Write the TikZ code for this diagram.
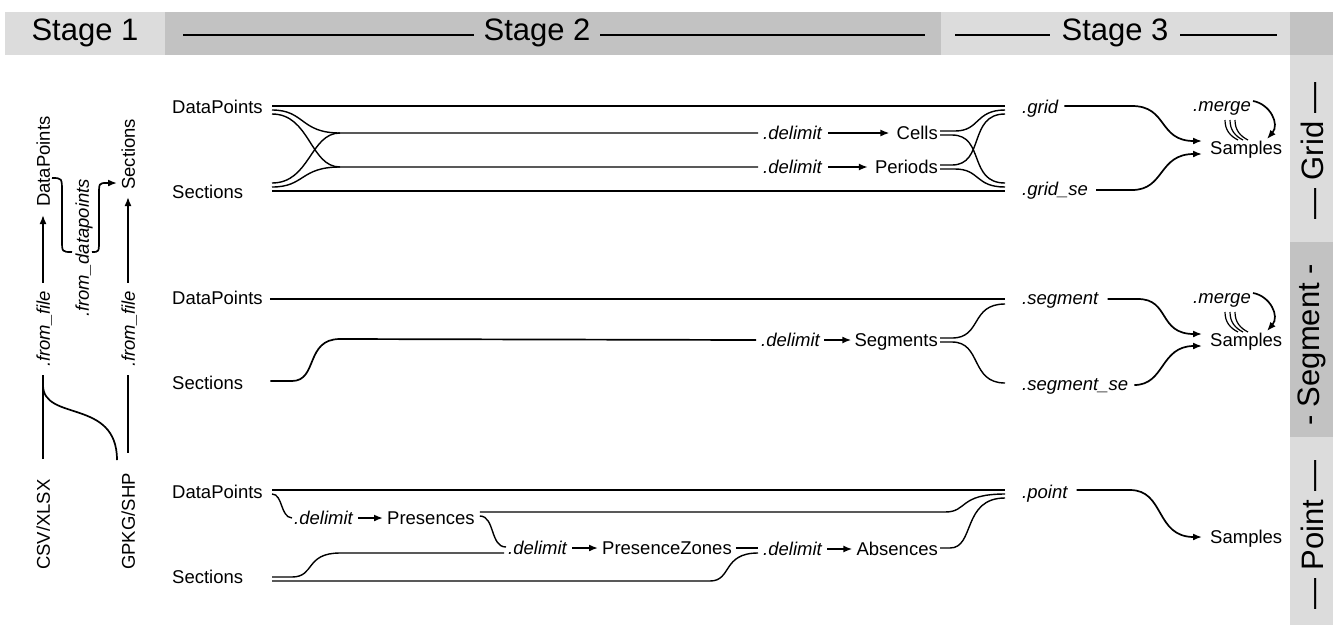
\documentclass[tikz,border=0pt]{standalone}
\usepackage{fontspec}
\setmainfont{Liberation Sans}
\usetikzlibrary{arrows.meta,calc}
\definecolor{lg}{HTML}{DCDCDC}
\definecolor{dg}{HTML}{C2C2C2}
\begin{document}
\begin{tikzpicture}[x=1pt,y=-1pt,
  lbl/.style={font=\fontsize{18.5}{22}\selectfont, inner sep=0pt, text height=13.5pt, text depth=0pt},
  op/.style={font=\fontsize{18.5}{22}\selectfont\itshape, inner sep=0pt, text height=13.5pt, text depth=0pt},
  ln/.style={line width=1.7pt},
  tl/.style={line width=1.4pt},
  arr/.style={line width=1.7pt,-{Latex[length=9pt,width=7pt]}},
  hdr/.style={font=\fontsize{31}{36}\selectfont, inner sep=0pt},
  merk/.style={line width=1.2pt},
]
\useasboundingbox (0,0) rectangle (1333,625);
% ---------- header bands ----------
\fill[lg] (5,12) rectangle (165,55);
\fill[dg] (165,12) rectangle (941,55);
\fill[lg] (941,12) rectangle (1290,55);
\fill[dg] (1290,12) rectangle (1333,55);
\fill[lg] (1290,55) rectangle (1333,242);
\fill[dg] (1290,242) rectangle (1333,437);
\fill[lg] (1290,437) rectangle (1333,625);
\node[hdr] (st1) at (85,33) {Stage 1};
\node[hdr] (st2) at (537,33) {Stage 2};
\node[hdr] (st3) at (1115,33) {Stage 3};
\draw[line width=1.8pt] (183,35) -- (474,35);
\draw[line width=1.8pt] (600,35) -- (925,35);
\draw[line width=1.8pt] (955,35) -- (1050,35);
\draw[line width=1.8pt] (1180,35) -- (1277,35);
\node[hdr, rotate=90] (rg) at (1312,151) {— Grid —};
\node[hdr, rotate=90] (rs) at (1312,345) {- Segment -};
\node[hdr, rotate=90] (rp) at (1312,535) {— Point —};
% ---------- Stage 1 ----------
\node[lbl, rotate=90, anchor=west] (csv) at (43,570) {CSV/XLSX};
\node[lbl, rotate=90, anchor=west] (gpkg) at (128,570) {GPKG/SHP};
\node[op, rotate=90, anchor=west] (ff1) at (43,367) {.from\_file};
\node[op, rotate=90, anchor=west] (ff2) at (128,367) {.from\_file};
\node[lbl, rotate=90, anchor=west] (dp0) at (43,207) {DataPoints};
\node[lbl, rotate=90, anchor=west] (se0) at (128,190) {Sections};
\node[op, rotate=90, anchor=west] (fdp) at (82,317) {.from\_datapoints};
\draw[ln, shorten <=20pt, shorten >=8pt] (csv.east) -- (ff1.west);
\draw[arr, shorten <=8pt, shorten >=8pt] (ff1.east) -- (dp0.west);
\draw[ln, shorten <=20pt, shorten >=8pt] (gpkg.east) -- (ff2.west);
\draw[arr, shorten <=8pt, shorten >=7pt] (ff2.east) -- (se0.west);
\coordinate (csvb) at (43,385);
\coordinate (gpkgb) at (117,460);
\draw[ln] (csvb) .. controls (43,422) and (117,398) .. (gpkgb);
\coordinate (fd1) at (52,178);
\coordinate (fd2) at (72,252);
\coordinate (fd3) at (92,252);
\coordinate (fd4) at (117,183);
\draw[ln] (fd1) .. controls (62,178) .. (62,192) -- (62,240) .. controls (62,252) .. (fd2);
\draw[arr] (fd3) .. controls (99,252) .. (99,240) -- (99,195) .. controls (99,183) .. (107,183) -- (fd4);
% ---------- Grid ----------
\node[lbl,anchor=west] (gdp) at (172,107) {DataPoints};
\node[lbl,anchor=west] (gse) at (172,192) {Sections};
\node[op,anchor=west] (gdl1) at (763,133) {.delimit};
\node[op,anchor=west] (gdl2) at (763,167) {.delimit};
\node[lbl,anchor=east] (cells) at (938,133) {Cells};
\node[lbl,anchor=east] (periods) at (938,167) {Periods};
\node[op,anchor=west] (grid) at (1022,107) {.grid};
\node[op,anchor=west] (gridse) at (1022,189) {.grid\_se};
\node[lbl,anchor=west] (gsam) at (1210,148) {Samples};
\node[op,anchor=west] (gmer) at (1193,105) {.merge};
\draw[tl] (272,106) -- (1005,106);
\draw[tl] (272,110) .. controls (305,110) and (300,133) .. (340,133) -- ($(gdl1.west)+(-5,0)$);
\draw[tl] (272,114) .. controls (310,114) and (310,167) .. (340,167) -- ($(gdl2.west)+(-5,0)$);
\draw[tl] (272,183) .. controls (310,183) and (310,133) .. (340,133);
\draw[tl] (272,187) .. controls (305,187) and (300,167) .. (340,167);
\draw[tl] (272,191) -- (1005,191);
\draw[arr] ($(gdl1.east)+(6,0)$) -- ($(cells.west)+(-7,0)$);
\draw[arr] ($(gdl2.east)+(6,0)$) -- ($(periods.west)+(-7,0)$);
\draw[tl] (940,131) -- (955,131) .. controls (980,131) and (975,110) .. (1005,110);
\draw[tl] (940,135) -- (952,135) .. controls (985,135) and (968,183) .. (1005,183);
\draw[tl] (940,165) -- (952,165) .. controls (985,165) and (968,114) .. (1005,114);
\draw[tl] (940,169) -- (955,169) .. controls (980,169) and (975,187) .. (1005,187);
\draw[arr] ($(grid.east)+(6,-1)$) -- (1132,106) .. controls (1168,106) and (1158,141) .. ($(gsam.west)+(-8,-7)$);
\draw[arr] ($(gridse.east)+(8,1)$) -- (1132,190) .. controls (1165,190) and (1158,154) .. ($(gsam.west)+(-8,6)$);
\draw[arr] ($(gmer.east)+(2,-4)$) .. controls (1270,104) and (1280,124) .. (1267,139);
\foreach \d in {0,5,10} \draw[merk] (1225+\d,120) .. controls (1225+\d,130) and (1230+\d,136) .. (1238+\d,140);
% ---------- Segment ----------
\node[lbl,anchor=west] (sdp) at (172,298) {DataPoints};
\node[lbl,anchor=west] (sse) at (172,383) {Sections};
\node[op,anchor=west] (sdl) at (761,340) {.delimit};
\node[lbl,anchor=east] (segs) at (938,340) {Segments};
\node[op,anchor=west] (sseg) at (1022,298) {.segment};
\node[op,anchor=west] (ssegse) at (1022,384) {.segment\_se};
\node[lbl,anchor=west] (ssam) at (1210,340) {Samples};
\node[op,anchor=west] (smer) at (1193,297) {.merge};
\draw[ln] ($(sdp.east)+(7,1)$) -- (1005,299);
\draw[ln] ($(sse.east)+(27,-2)$) -- (292,381) .. controls (318,381) and (305,339) .. (340,339) -- ($(sdl.west)+(-5,0)$);
\draw[arr] ($(sdl.east)+(4,0)$) -- ($(segs.west)+(-3,0)$);
\draw[tl] (940,338) -- (952,338) .. controls (982,338) and (970,304) .. (1005,304);
\draw[tl] (940,342) -- (952,342) .. controls (982,342) and (970,383) .. (1005,383);
\draw[arr] ($(sseg.east)+(9,1)$) -- (1138,299) .. controls (1170,299) and (1158,334) .. ($(ssam.west)+(-8,-6)$);
\draw[arr] ($(ssegse.east)+(6,1)$) .. controls (1165,385) and (1160,346) .. ($(ssam.west)+(-8,6)$);
\draw[arr] ($(smer.east)+(2,-4)$) .. controls (1270,296) and (1280,316) .. (1267,331);
\foreach \d in {0,5,10} \draw[merk] (1225+\d,312) .. controls (1225+\d,322) and (1230+\d,328) .. (1238+\d,332);
% ---------- Point ----------
\node[lbl,anchor=west] (pdp) at (172,492) {DataPoints};
\node[lbl,anchor=west] (pse) at (172,577) {Sections};
\node[op,anchor=west] (pdl1) at (294,518) {.delimit};
\node[lbl,anchor=west] (pres) at (387,518) {Presences};
\node[op,anchor=west] (pdl2) at (508,548) {.delimit};
\node[lbl,anchor=west] (pz) at (602,548) {PresenceZones};
\node[op,anchor=west] (pdl3) at (763,549) {.delimit};
\node[lbl,anchor=east] (abs) at (938,549) {Absences};
\node[op,anchor=west] (ppt) at (1022,492) {.point};
\node[lbl,anchor=west] (psam) at (1210,537) {Samples};
\draw[tl] (272,490) -- (1005,490);
\draw[tl] (272,494) .. controls (283,494) and (280,517) .. ($(pdl1.west)+(-2,0)$);
\draw[arr] ($(pdl1.east)+(5,0)$) -- ($(pres.west)+(-4,0)$);
\draw[tl] ($(pres.east)+(5,-6)$) -- (945,512) .. controls (968,512) and (958,494) .. (1005,494);
\draw[tl] ($(pres.east)+(5,-2)$) .. controls (495,516) and (490,547) .. ($(pdl2.west)+(-2,-1)$);
\draw[tl] (272,577) -- (292,577) .. controls (315,577) and (305,553) .. (340,553) -- ($(pdl2.west)+(-4,5)$);
\draw[arr] ($(pdl2.east)+(5,0)$) -- ($(pz.west)+(-4,0)$);
\draw[tl] ($(pz.east)+(4,0)$) -- ($(pdl3.west)+(-5,-1)$);
\draw[tl] (272,581) -- (710,581) .. controls (732,581) and (722,553) .. ($(pdl3.west)+(-5,4)$);
\draw[arr] ($(pdl3.east)+(5,0)$) -- ($(abs.west)+(-4,0)$);
\draw[tl] ($(abs.east)+(2,-1)$) -- (950,548) .. controls (975,548) and (962,498) .. (1005,498);
\draw[arr] ($(ppt.east)+(9,-2)$) -- (1130,490) .. controls (1165,490) and (1155,537) .. ($(psam.west)+(-8,0)$);
\end{tikzpicture}
\end{document}
